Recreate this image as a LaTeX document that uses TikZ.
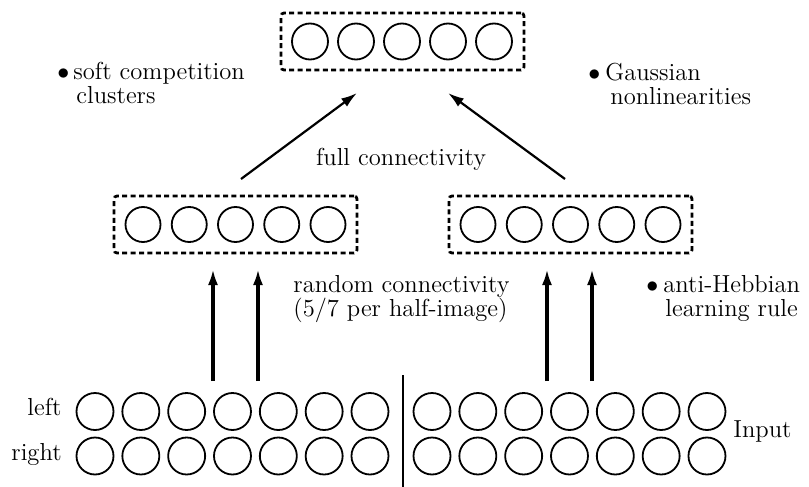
\documentclass[tikz,border=0pt]{standalone}
\usetikzlibrary{arrows.meta}
\begin{document}
\begin{tikzpicture}[x=0.5pt,y=-0.5pt,
  neuron/.style={circle,draw,line width=0.9pt,inner sep=0pt,minimum size=#1},
  neuron/.default=18pt,
  layerbox/.style={draw,line width=1.4pt,dash pattern=on 2.5pt off 1.7pt,rounded corners=1.5pt,
    minimum width=121.5pt,minimum height=28.5pt,inner sep=0pt},
  conn/.style={-{Latex[length=8pt,width=5pt]},line width=1.1pt},
  vconn/.style={conn,line width=1.6pt},
  lbl/.style={font=\fontsize{12.3}{11.8}\selectfont,inner sep=0pt,align=left},
  divider/.style={line width=1pt}]
\useasboundingbox (0,0) rectangle (809,487);

% top layer
\node[layerbox] (topbox) at (402.5,41.5) {};
\foreach \i in {1,...,5} \node[neuron] (t\i) at ({402+(\i-3)*46},41.5) {};

% middle layers
\node[layerbox] (midL) at (235.5,224.5) {};
\node[layerbox] (midR) at (570.5,224.5) {};
\foreach \i in {1,...,5} {
  \node[neuron=17.5pt] (ml\i) at ({235.5+(\i-3)*46.25},224.5) {};
  \node[neuron=17.5pt] (mr\i) at ({570.5+(\i-3)*46.25},224.5) {};
}

% input layer
\foreach \i in {1,...,7} {
  \node[neuron=18.5pt] (il\i) at ({95+(\i-1)*45.83},411.5) {};
  \node[neuron=18.5pt] (jl\i) at ({95+(\i-1)*45.83},456) {};
  \node[neuron=18.5pt] (ir\i) at ({432+(\i-1)*45.83},411.5) {};
  \node[neuron=18.5pt] (jr\i) at ({432+(\i-1)*45.83},456) {};
}
\coordinate (dtop) at (403,375);
\coordinate (dbot) at (403,487);
\draw[divider] (dtop) -- (dbot);

% vertical connectors
\coordinate (v1s) at (213,381); \coordinate (v1e) at (213,269);
\coordinate (v2s) at (258,381); \coordinate (v2e) at (258,269);
\coordinate (v3s) at (547,381); \coordinate (v3e) at (547,269);
\coordinate (v4s) at (592,381); \coordinate (v4e) at (592,269);
\draw[vconn] (v1s) -- (v1e);
\draw[vconn] (v2s) -- (v2e);
\draw[vconn] (v3s) -- (v3e);
\draw[vconn] (v4s) -- (v4e);

% diagonal connectors
\coordinate (dls) at (241,179); \coordinate (dle) at (357,93);
\coordinate (drs) at (565,179); \coordinate (dre) at (448,93);
\draw[conn] (dls) -- (dle);
\draw[conn] (drs) -- (dre);

% labels
\node[lbl,anchor=base] (full) at (401,165) {full connectivity};
\node[lbl,anchor=base west] (soft) at (57,103)
  {\makebox[8pt][l]{$\bullet$}soft competition\\\hspace{9.5pt}clusters};
\node[lbl,anchor=base west] (gauss) at (588,104)
  {\makebox[8.5pt][l]{$\bullet$}Gaussian\\\hspace{11pt}nonlinearities};
\node[lbl,anchor=base west] (rand) at (293,316)
  {random connectivity\\(5/7 per half-image)};
\node[lbl,anchor=base west] (anti) at (646,316)
  {\makebox[8.5pt][l]{$\bullet$}anti-Hebbian\\\hspace{9.5pt}learning rule};
\node[lbl,anchor=base east] (leftl) at (62,415) {left};
\node[lbl,anchor=base east] (rightl) at (62,460) {right};
\node[lbl,anchor=base west] (input) at (733,437) {Input};
\end{tikzpicture}
\end{document}
